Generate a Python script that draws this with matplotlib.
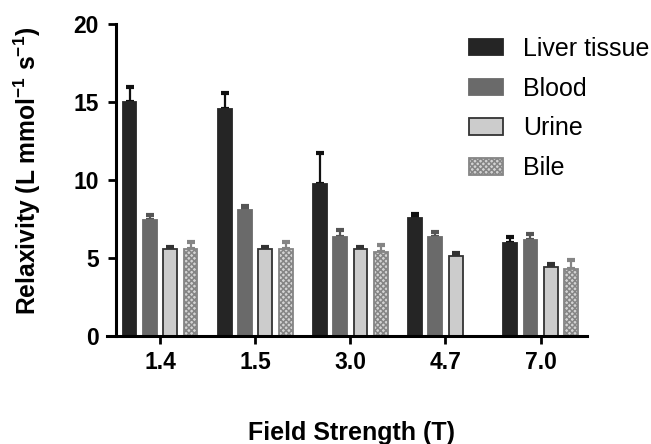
import numpy as np
import matplotlib
matplotlib.use("Agg")
import matplotlib.pyplot as plt

plt.rcParams['font.family'] = ['Liberation Sans', 'DejaVu Sans']
plt.rcParams['font.weight'] = 'bold'
plt.rcParams['mathtext.fontset'] = 'custom'
plt.rcParams['mathtext.rm'] = 'Liberation Sans:bold'
plt.rcParams['mathtext.bf'] = 'Liberation Sans:bold'
plt.rcParams['hatch.linewidth'] = 1.1

fields = ["1.4", "1.5", "3.0", "4.7", "7.0"]
series = ["Liver tissue", "Blood", "Urine", "Bile"]
liver = [15.0, 14.55, 9.75, 7.55, 5.95]
liver_err = [0.95, 1.0, 1.95, 0.26, 0.4]
blood = [7.45, 8.05, 6.35, 6.35, 6.15]
blood_err = [0.27, 0.28, 0.47, 0.28, 0.38]
urine = [5.55, 5.55, 5.55, 5.15, 4.45]
urine_err = [0.15, 0.15, 0.15, 0.18, 0.16]
bile = [5.57, 5.57, 5.37, np.nan, 4.27]
bile_err = [0.45, 0.45, 0.45, np.nan, 0.63]

values = [liver, blood, urine, bile]
errors = [liver_err, blood_err, urine_err, bile_err]
faces = ['#252525', '#6a6a6a', '#cccccc', '#d4d4d4']
edges = ['#252525', '#6a6a6a', '#333333', '#858585']
errcols = ['#111111', '#555555', '#333333', '#858585']
hatches = [None, None, None, 'xxxxxx']

fig = plt.figure(figsize=(6.51, 4.44), dpi=100)
ax = fig.add_axes([0.164, 0.243, 0.902 - 0.164, 0.947 - 0.243])

x = np.arange(len(fields))
width = 0.145
step = 0.214
for i, (v, e) in enumerate(zip(values, errors)):
    pos = x + (i - 1.5) * step
    ax.bar(pos, v, width, color=faces[i], edgecolor=edges[i], linewidth=1.3,
           hatch=hatches[i], label=series[i], zorder=2)
    ax.errorbar(pos, v, yerr=[np.zeros(len(v)), e], fmt='none', ecolor=errcols[i],
                elinewidth=1.6, capsize=2.6, capthick=3.0, zorder=1)

ax.set_xlim(-0.56, 4.49)
ax.set_ylim(0, 20)
ax.set_yticks([0, 5, 10, 15, 20])
ax.set_xticks(x)
ax.set_xticklabels(fields)
ax.tick_params(axis='both', labelsize=16.5, width=2, length=6, direction='out')
ax.tick_params(axis='y', pad=6.5)
ax.tick_params(axis='x', pad=5)
ax.spines['top'].set_visible(False)
ax.spines['right'].set_visible(False)
ax.spines['left'].set_position(('data', -0.463))
ax.spines['left'].set_linewidth(2.2)
ax.spines['bottom'].set_linewidth(2.2)

ax.set_ylabel(r'Relaxivity (L mmol$^{-1}$ s$^{-1}$)', fontsize=17.7, fontweight='bold')
ax.yaxis.set_label_coords(-0.133, 0.53)
ax.set_xlabel('Field Strength (T)', fontsize=18, fontweight='bold')
ax.xaxis.set_label_coords(0.51, -0.272)

leg = ax.legend(loc='upper left', bbox_to_anchor=(0.720, 0.917), bbox_transform=fig.transFigure,
                frameon=False, prop={'size': 18, 'weight': 'normal'}, handlelength=1.36,
                handleheight=0.64, handletextpad=0.8, labelspacing=0.63,
                borderaxespad=0, borderpad=0)

fig.savefig('out.png', dpi=100)
